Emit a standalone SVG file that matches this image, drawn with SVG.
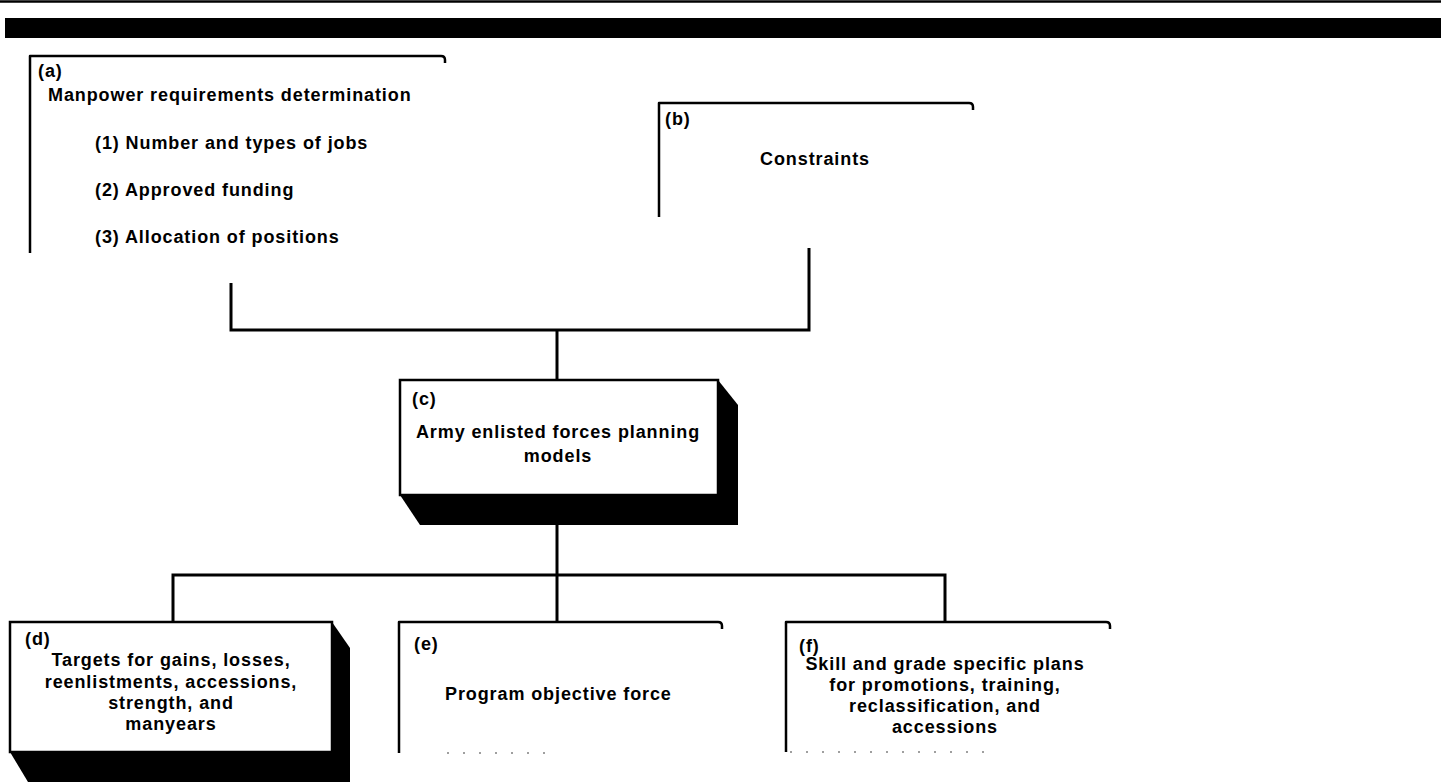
<svg xmlns="http://www.w3.org/2000/svg" width="1441" height="782" viewBox="0 0 1441 782">
<style>
text{font-family:"Liberation Sans",Arial,sans-serif;font-weight:bold;font-size:18px;letter-spacing:0.9px;fill:#000}
.c{text-anchor:middle}
.box{fill:none;stroke:#000;stroke-width:2.5;stroke-linejoin:round}
.fill{fill:#fff;stroke:#000;stroke-width:2.5}
.sh{fill:#000}
.con{fill:none;stroke:#000;stroke-width:3}
.dot{fill:none;stroke:#000;stroke-width:1.5;stroke-dasharray:2 14;opacity:.5}
</style>
<rect width="1441" height="782" fill="#fff"/>
<g id="header">
<line x1="0" y1="1.5" x2="1441" y2="1.5" stroke="#000" stroke-width="2.5"/>
<rect x="5" y="18" width="1436" height="20" fill="#000"/>
</g>
<g id="connectors">
<path class="con" d="M231,283 V330 H809 V248"/>
<path class="con" d="M557,330 V380"/>
<path class="con" d="M557,495 V622"/>
<path class="con" d="M173,622 V575 H945 V622"/>
</g>
<g id="node-a">
<path class="box" d="M30,253 V56 H441 q4,0 4,4 v3"/>
<text x="38" y="77">(a)</text>
<text x="48" y="101">Manpower requirements determination</text>
<text x="95" y="149">(1) Number and types of jobs</text>
<text x="95" y="196">(2) Approved funding</text>
<text x="95" y="243">(3) Allocation of positions</text>
</g>
<g id="node-b">
<path class="box" d="M659,217 V103 H969 q4,0 4,4 v3"/>
<text x="665" y="125">(b)</text>
<text class="c" x="815" y="165">Constraints</text>
</g>
<g id="node-c">
<polygon class="sh" points="718,380 738,405 738,525 420,525 400,495"/>
<rect class="fill" x="400" y="380" width="318" height="115"/>
<text x="412" y="405">(c)</text>
<text class="c" x="558" y="438">Army enlisted forces planning</text>
<text class="c" x="558" y="462">models</text>
</g>
<g id="node-d">
<polygon class="sh" points="332,622 350,648 350,782 28,782 10,752"/>
<rect class="fill" x="10" y="622" width="322" height="130"/>
<text x="25" y="645">(d)</text>
<text class="c" x="171" y="666">Targets for gains, losses,</text>
<text class="c" x="171" y="688">reenlistments, accessions,</text>
<text class="c" x="171" y="709">strength, and</text>
<text class="c" x="171" y="730">manyears</text>
</g>
<g id="node-e">
<path class="box" d="M399,753 V622 H718 q4,0 4,4 v3"/>
<line class="dot" x1="447" y1="753" x2="545" y2="753"/>
<text x="414" y="650">(e)</text>
<text x="445" y="700">Program objective force</text>
</g>
<g id="node-f">
<path class="box" d="M786,752 V622 H1106 q4,0 4,4 v3"/>
<line class="dot" x1="790" y1="752" x2="995" y2="752"/>
<text x="799" y="652">(f)</text>
<text class="c" x="945" y="670">Skill and grade specific plans</text>
<text class="c" x="945" y="691">for promotions, training,</text>
<text class="c" x="945" y="712">reclassification, and</text>
<text class="c" x="945" y="733">accessions</text>
</g>
</svg>
